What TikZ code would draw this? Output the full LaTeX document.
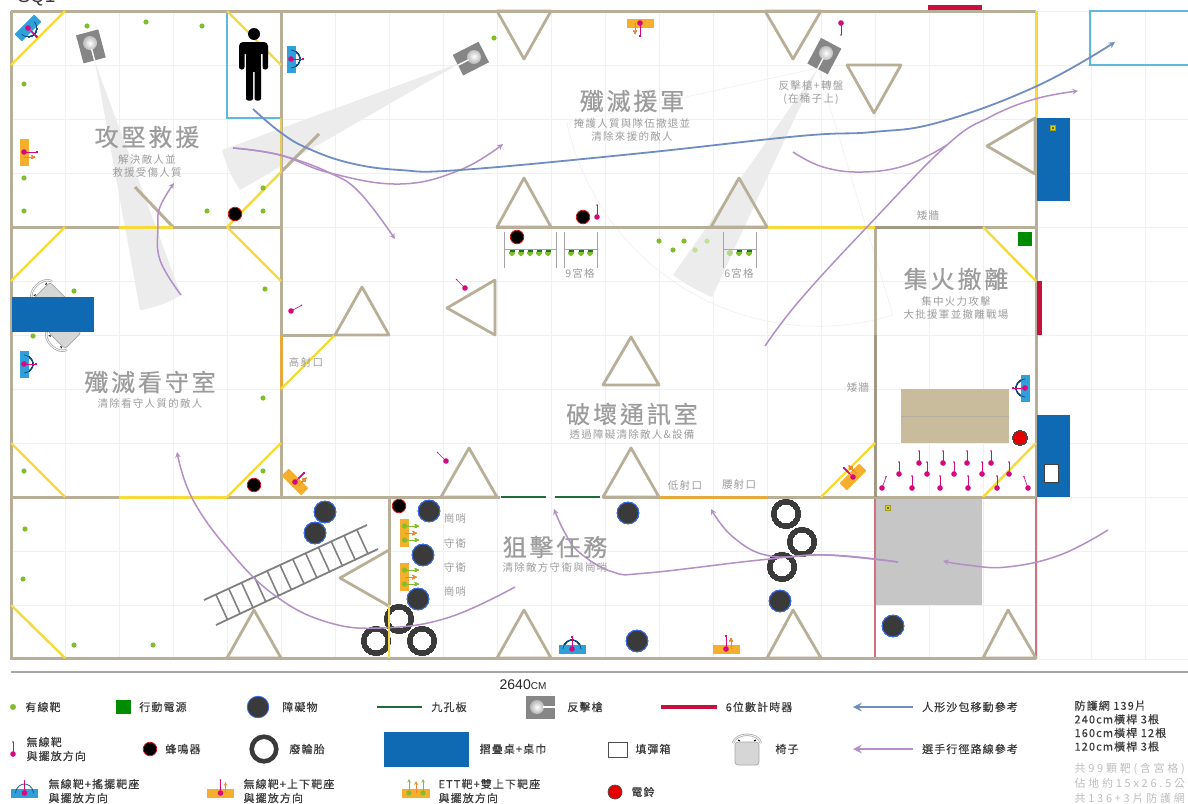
\documentclass[tikz,border=0pt]{standalone}
\usepackage{fontspec}
\setmainfont{Noto Sans CJK TC}
\newfontfamily\cjkwide[LetterSpace=25]{Noto Sans CJK TC}
\newfontfamily\cjktitle[LetterSpace=12,FakeBold=0.5]{Noto Sans CJK TC}
\newfontfamily\cjksub[LetterSpace=12]{Noto Sans CJK TC}
\newfontfamily\cjklegend[LetterSpace=10,FakeBold=0.3]{Noto Sans CJK TC}
\newfontfamily\latinfont{Liberation Sans}
\definecolor{wallcolor}{HTML}{B9AE98}
\definecolor{lowwall}{HTML}{A39885}
\definecolor{yellowwall}{HTML}{F6D93A}
\definecolor{orangewall}{HTML}{E8A93C}
\definecolor{gridcolor}{HTML}{F0F0F0}
\definecolor{conecolor}{HTML}{ECECEC}
\definecolor{tablecolor}{HTML}{0F69B3}
\definecolor{cyancolor}{HTML}{5FB9DC}
\definecolor{swingcolor}{HTML}{2FA0DA}
\definecolor{updowncolor}{HTML}{F6AE2D}
\definecolor{targetpink}{HTML}{D6087F}
\definecolor{targetgreen}{HTML}{82BE2C}
\definecolor{boardgreen}{HTML}{1F6B3A}
\definecolor{timercolor}{HTML}{C8103F}
\definecolor{redline}{HTML}{D2707C}
\definecolor{purplepath}{HTML}{B48FC6}
\definecolor{bluepath}{HTML}{6F8DC2}
\definecolor{blockcolor}{HTML}{C9BC9C}
\definecolor{obstaclecolor}{HTML}{3A3A3A}
\definecolor{gunlight}{HTML}{B5B5B5}
\definecolor{titlegray}{HTML}{9C9C9C}
\definecolor{notegray}{HTML}{BDBDBD}
\definecolor{legendtext}{HTML}{3A3A3A}
\tikzset{
  wall/.style={draw=wallcolor,line width=3},
  yellowline/.style={draw=yellowwall,line width=2.4},
  trianglewall/.style={draw=wallcolor,line width=2.8,line join=round},
  route/.style={draw=purplepath,line width=1.5},
  dummyroute/.style={draw=bluepath,line width=1.8},
  title/.style={text=titlegray,font=\cjktitle\fontsize{24}{26}\selectfont},
  subtitle/.style={text=titlegray,font=\cjksub\fontsize{10.5}{13}\selectfont,align=center},
  planlabel/.style={text=titlegray,font=\cjksub\fontsize{10.5}{13}\selectfont},
  legendlabel/.style={text=legendtext,font=\cjklegend\fontsize{11}{14}\selectfont,align=left},
}
\newcommand{\wirelessdraw}[4]{\begin{scope}[shift={(#1,#2)},rotate=#3]
  \draw[targetpink,line width=.6] (0,0) -- (#4,0);
  \fill[targetpink] (#4,0) circle (.9);
  \fill[targetpink] (0,0) circle (2.8);
\end{scope}}
\newcommand{\swingdraw}[3]{\begin{scope}[shift={(#1,#2)},rotate=#3]
  \fill[swingcolor] (-4.5,-13.5) rectangle (4.5,13.5);
  \draw[tablecolor!70!black,line width=.7] (0,-9) .. controls (7,-8) and (9,-3) .. (9,0) .. controls (9,3) and (7,8) .. (0,9);
  \draw[targetpink,line width=.6] (0,0) -- (12,0);
  \fill[targetpink] (12,0) circle (.9);
  \fill[targetpink] (0,0) circle (2.8);
\end{scope}}
\newcommand{\updowndraw}[3]{\begin{scope}[shift={(#1,#2)},rotate=#3]
  \fill[updowncolor] (-4.5,-13.5) rectangle (4.5,13.5);
  \draw[targetpink,line width=.6] (0,0) -- (13,0);
  \fill[targetpink] (13,0) circle (.9);
  \draw[orangewall!80!red,line width=.7,-stealth] (0,5) -- (11,5);
  \fill[targetpink] (0,0) circle (2.8);
\end{scope}}
\newcommand{\ettdraw}[3]{\begin{scope}[shift={(#1,#2)},rotate=#3]
  \fill[updowncolor] (-4.5,-14) rectangle (4.5,14);
  \draw[targetgreen,line width=.6,-stealth] (0,-7) -- (14,-7);
  \draw[targetgreen,line width=.6,-stealth] (0,7) -- (14,7);
  \draw[orangewall!80!red,line width=.8,-stealth] (0,0) -- (12,0);
  \fill[targetgreen] (0,-7) circle (2.6);
  \fill[targetgreen] (0,7) circle (2.6);
\end{scope}}
\newcommand{\gundraw}[3]{\begin{scope}[shift={(#1,#2)},rotate=#3]
  \fill[gray!95] (-11,-11.5) rectangle (18,11.5);
  \shade[inner color=white,outer color=gunlight] (0,0) circle (7);
  \draw[white,line width=1.4] (6,0) -- (18,0);
\end{scope}}
\newcommand{\chairdraw}[3]{\begin{scope}[shift={(#1,#2)},rotate=#3]
  \draw[gray!70,fill=gray!32,line width=.7,rounded corners=3] (-12,-12) rectangle (12,11);
  \draw[gray!80,line width=2.2] (-14,-11) .. controls (-11,-22) and (11,-22) .. (14,-11);
  \draw[gray!12,line width=1.1] (-14,-11) .. controls (-11,-22) and (11,-22) .. (14,-11);
  \draw[black,line width=1] (-9,-14) -- (-7,-13);
  \draw[black,line width=1] (9,-14) -- (7,-13);
\end{scope}}
\newcommand{\buzzerdraw}[2]{\fill[black] (#1,#2) circle (6.5); \draw[red!80!black,line width=.7] (#1,#2) circle (6.8);}
\newcommand{\obstacledraw}[2]{\draw[fill=obstaclecolor,draw=cyancolor!60!blue,line width=.8] (#1,#2) circle (10.8);}
\newcommand{\tiredraw}[2]{\draw[obstaclecolor,line width=4.6] (#1,#2) circle (12.3);}
\newcommand{\belldraw}[2]{\draw[fill=red!90!black,draw=black!70,line width=.7] (#1,#2) circle (7);}
\newcommand{\markdraw}[2]{\draw[fill=yellow!70!olive,draw=olive!80,line width=.3] (#1-2.4,#2-2.4) rectangle (#1+2.4,#2+2.4); \fill[black] (#1,#2) circle (.9);}
\begin{document}
\begin{tikzpicture}[x=1pt,y=-1pt]
  \useasboundingbox (0,0) rectangle (1188,803);
  \node (titletop) [anchor=base west,text=legendtext,font=\latinfont\fontsize{19}{20}\selectfont] at (14,2) {SQ1};
  % grid
  \foreach \gridx in {11,65,...,1145} \draw[gridcolor,line width=.7] (\gridx,11) -- (\gridx,659);
  \foreach \gridy in {11,65,...,659} \draw[gridcolor,line width=.7] (11,\gridy) -- (1188,\gridy);
  % firing areas of the guns
  \draw[gridcolor,line width=.7] (818,68) -- (567,123) .. controls (599,270) and (749,359) .. (893,315) -- cycle;
  \fill[conecolor] (95,62) -- (140,310) .. controls (155,308) and (170,302) .. (181,295) -- cycle;
  \fill[conecolor] (462,62) -- (222,150) .. controls (226,165) and (232,178) .. (240,190) -- cycle;
  \fill[conecolor] (818,68) -- (673,275) .. controls (685,284) and (698,291) .. (712,297) -- cycle;
  % floor pieces
  \fill[gray!45] (875,497) rectangle (982,605);
  \fill[blockcolor] (901,389) rectangle (1009,443);
  \draw[lowwall!80,line width=.8] (901,416) -- (1009,416);
  \draw[cyancolor,line width=1.2] (227,11) rectangle (281,118);
  \draw[cyancolor,line width=1.2] (1090,11) rectangle (1200,65);
  % walls
  \draw[redline,line width=1.6] (875,497) -- (875,658);
  \draw[redline,line width=1.6] (1036,497) -- (1036,658);
  \draw[wall] (11,11) -- (1036,11);
  \draw[wall] (11,11) -- (11,658) -- (1036,658);
  \draw[wall] (11,227) -- (281,227);
  \draw[wall] (281,11) -- (281,497);
  \draw[wall] (11,497) -- (500,497);
  \draw[wall] (603,497) -- (1036,497);
  \draw[wall] (496,227) -- (767,227);
  \draw[wall] (875,227) -- (875,335);
  \draw[lowwall,line width=3] (875,227) -- (983,227);
  \draw[wall] (983,227) -- (1036,227);
  \draw[lowwall,line width=3] (875,335) -- (875,497);
  \draw[wall] (1036,118) -- (1036,497);
  \draw[wall] (389,497) -- (389,605);
  \draw[wall] (281,335) -- (335,335);
  \draw[wall] (135,187) -- (173,227);
  \draw[wall] (319,134) -- (281,172);
  \draw[draw=yellowwall,line width=3] (1036,11) -- (1036,118);
  \draw[draw=yellowwall,line width=3] (119,227) -- (173,227);
  \draw[draw=yellowwall,line width=3] (119,497) -- (227,497);
  \draw[draw=yellowwall!70!wallcolor,line width=2.6] (281,118) -- (281,172);
  \draw[draw=yellowwall,line width=3] (767,227) -- (875,227);
  \draw[draw=orangewall,line width=3] (281,335) -- (281,389);
  \draw[draw=orangewall,line width=3] (659,497) -- (767,497);
  \draw[boardgreen,line width=2] (501,497) -- (546,497);
  \draw[boardgreen,line width=2] (555,497) -- (600,497);
  % doors
  \foreach \ax/\ay/\bx/\by in {11/65/65/11,227/11/281/65,281/172/227/227,227/227/281/281,11/281/65/227,
    11/443/65/497,281/443/227/497,335/335/281/389,983/227/1036/281,875/443/821/497,1036/443/983/497,11/605/65/658}
    \draw[yellowline] (\ax,\ay) -- (\bx,\by);
  % triangles
  \foreach \ax/\ay/\bx/\by/\cx/\cy in {497/11/551/11/524/59,765/11/821/11/793/59,847/65/901/65/874/113,
    497/227/551/227/524/178,711/227/767/227/739/178,1035/118/987/146/1035/174,495/280/447/308/495/335,
    335/335/389/335/362/287,603/385/659/385/631/337,441/497/497/497/469/448,603/497/659/497/631/448,
    227/658/281/658/254/610,497/658/551/658/524/610,767/658/821/658/793/610,983/658/1036/658/1008/610}
    \draw[trianglewall] (\ax,\ay) -- (\bx,\by) -- (\cx,\cy) -- cycle;
  \draw[trianglewall] (389,550) -- (340,578) -- (389,606);
  % tables, timers
  \chairdraw{50}{299}{45}
  \chairdraw{65}{332}{135}
  \fill[tablecolor] (12,297) rectangle (94,332);
  \fill[tablecolor] (1037,118) rectangle (1070,201);
  \fill[tablecolor] (1037,415) rectangle (1070,497);
  \draw[fill=white,draw=black!75,line width=.9] (1044,464) rectangle (1058,482);
  \fill[timercolor] (928,5) rectangle (982,10);
  \fill[timercolor] (1037,281) rectangle (1041.5,335);
  \fill[green!55!black] (1018,232) rectangle (1032,246);
  \markdraw{1053}{128}
  \markdraw{888}{508}
  % ladder
  \draw[gray,line width=1.8] (204,600) -- (367,525);
  \draw[gray,line width=1.8] (216,625) -- (378,549);
  \foreach \rung in {0,...,11}
    \draw[gray,line width=1.6] (216+12.8*\rung,594.7-5.92*\rung) -- (227.5+12.8*\rung,619.7-5.92*\rung);
  % person
  \fill[black] (254,34) circle (6);
  \fill[black,rounded corners=4] (239,42) rectangle (268,54);
  \fill[black,rounded corners=2.4] (239,47) rectangle (244.5,69.5);
  \fill[black,rounded corners=2.4] (262.5,47) rectangle (268,69.5);
  \fill[black] (246,44) rectangle (261,72);
  \fill[black,rounded corners=2] (246,68) rectangle (253,100.5);
  \fill[black,rounded corners=2] (254.5,68) rectangle (261,100.5);
  % targets
  \foreach \tx/\ty in {87/26,146/22,202/26,24/84,24/178,24/211,207/211,263/211,263/188,494/38,659/241,673/250,684/241,
    74/291,33/336,265/289,263/398,24/471,263/471,25/529,23/579,74/645,153/645}
    \fill[targetgreen] (\tx,\ty) circle (2.6);
  \fill[targetgreen!50!white] (695,250) circle (2.6);
  \fill[targetgreen!50!white] (707,241) circle (2.6);
  \foreach \tx/\ty/\tang/\tlen in {841/23/-90/12,597/217/90/12,291/311/28/12,465/288/135/12,446/461/135/12,
    919/463/90/12,943/463/90/12,967/463/90/12,991/463/90/12,899/474/90/12,927/474/90/12,954/474/90/12,982/474/90/12,1009/474/90/12,
    882/488/70/12,912/488/90/12,940/488/90/12,968/488/90/12,997/488/90/12,1028/488/110/12}
    \wirelessdraw{\tx}{\ty}{\tang}{\tlen}
  \swingdraw{291}{59}{0}
  \swingdraw{28}{28}{-45}
  \swingdraw{24}{364}{0}
  \swingdraw{1025}{388}{180}
  \swingdraw{572}{649}{90}
  \updowndraw{24}{152}{0}
  \updowndraw{640}{23}{-90}
  \updowndraw{295}{482}{45}
  \updowndraw{853}{477}{135}
  \updowndraw{726}{649}{90}
  \ettdraw{404.5}{533}{0}
  \ettdraw{404.5}{577}{0}
  % nine hole boards
  \foreach \ba/\bb in {504/556,564/597,723/756} {
    \draw[gray!70,line width=.8] (\ba,232) -- (\ba,268);
    \draw[gray!70,line width=.8] (\bb,232) -- (\bb,268);
    \draw[gray!70,line width=.8] (\ba,249) -- (\bb,249);
  }
  \foreach \dotx in {512,521,530,539,548,571,581,590,739,749} {
    \fill[targetgreen] (\dotx,253) circle (2.5);
    \fill[boardgreen] (\dotx-2.5,250) rectangle (\dotx+2.5,252);
  }
  \fill[targetgreen!60!white] (730,253) circle (2.5);
  % obstacles
  \foreach \bx/\by in {235/214,254/485,583/217,517/237,399/506} \buzzerdraw{\bx}{\by}
  \foreach \ox/\oy in {325/512,315/533,429/511,423/555,418/599,628/513,637/641,780/601,893/626} \obstacledraw{\ox}{\oy}
  \foreach \rx/\ry in {786/514,802/542,782/567,399/619,422/641,376/641} \tiredraw{\rx}{\ry}
  \belldraw{1020}{438}
  \draw[draw=yellowwall,line width=2] (389,605) -- (389,658);
  % guns
  \gundraw{90}{43}{-75}
  \gundraw{474}{57}{-153}
  \gundraw{826}{53}{-118}
  % routes
  \draw[route,-stealth] plot[smooth,tension=.7] coordinates {(233,148) (280,155) (330,173) (400,184) (460,170) (503,144)};
  \draw[route,-stealth] plot[smooth,tension=.7] coordinates {(233,148) (280,155) (330,173) (360,193) (395,239)};
  \draw[route,-stealth] plot[smooth,tension=.7] coordinates {(181,295) (160,260) (158,227) (160,207) (174,183)};
  \draw[route,-stealth] plot[smooth,tension=.7] coordinates {(515,587) (447,618) (380,628) (327,622) (277,597) (233,555) (193,500) (177,452)};
  \draw[route,-stealth] plot[smooth,tension=.7] coordinates {(898,562) (827,555) (760,560) (647,573) (613,572) (580,553) (565,533) (554,509)};
  \draw[route,-stealth] plot[smooth,tension=.7] coordinates {(898,562) (827,555) (770,556) (733,537) (711,509)};
  \draw[route,-stealth] plot[smooth,tension=.7] coordinates {(1108,530) (1060,555) (1007,567) (967,565) (943,561)};
  \draw[route,-stealth] plot[smooth,tension=.7] coordinates {(765,346) (800,300) (867,227) (947,145) (990,117) (1035,99) (1078,91)};
  \draw[route] plot[smooth,tension=.7] coordinates {(793,152) (823,167) (863,172) (907,165) (947,145)};
  \draw[dummyroute,-stealth] plot[smooth,tension=.7] coordinates {(253,109) (280,132) (307,148) (350,163) (400,170) (460,170) (633,154) (800,136) (873,132) (940,122) (1037,86) (1115,42)};
  % room titles
  \node (roomassault) [title] at (147,137) {攻堅救援};
  \node (subassault) [subtitle] at (147,166) {解決敵人並\\救援受傷人質};
  \node (roomreinforce) [title] at (632,101) {殲滅援軍};
  \node (subreinforce) [subtitle] at (632,130) {掩護人質與隊伍撤退並\\清除來援的敵人};
  \node (roomfocus) [title] at (956,279) {集火撤離};
  \node (subfocus) [subtitle] at (956,308) {集中火力攻擊\\大批援軍並撤離戰場};
  \node (roomguard) [title] at (150,382) {殲滅看守室};
  \node (subguard) [subtitle] at (150,404) {清除看守人質的敵人};
  \node (roomcomms) [title] at (632,414) {破壞通訊室};
  \node (subcomms) [subtitle] at (632,435) {透過障礙清除敵人\&設備};
  \node (roomsniper) [title] at (555,547) {狙擊任務};
  \node (subsniper) [subtitle] at (555,568) {清除敵方守衛與崗哨};
  \node (gunnote) [subtitle] at (811,93) {反擊槍+轉盤\\(在桶子上)};
  \node (lowwallone) [planlabel] at (928,216) {矮牆};
  \node (lowwalltwo) [planlabel] at (858,388) {矮牆};
  \node (highport) [planlabel] at (306,362) {高射口};
  \node (lowport) [planlabel] at (685,485) {低射口};
  \node (waistport) [planlabel] at (739,485) {腰射口};
  \node (gridnine) [planlabel] at (580,273) {9宮格};
  \node (gridsix) [planlabel] at (739,273) {6宮格};
  \node (postone) [planlabel] at (455,519) {崗哨};
  \node (guardone) [planlabel] at (455,543) {守衛};
  \node (guardtwo) [planlabel] at (455,567) {守衛};
  \node (posttwo) [planlabel] at (455,592) {崗哨};
  % legend
  \draw[gray!70,line width=1.3] (11,672) -- (1188,672);
  \node (widthlabel) [text=black!85,font=\latinfont\fontsize{14}{16}\selectfont] at (523,685) {2640{\fontsize{10}{12}\selectfont CM}};
  \fill[targetgreen] (13,707) circle (3);
  \node (legwired) [legendlabel] at (43,707) {有線靶};
  \fill[green!55!black] (116,700) rectangle (131,714);
  \node (legpower) [legendlabel] at (163,707) {行動電源};
  \obstacledraw{258}{707}
  \node (legobstacle) [legendlabel] at (300,707) {障礙物};
  \draw[boardgreen,line width=1.8] (377,707) -- (422,707);
  \node (legboard) [legendlabel] at (449,707) {九孔板};
  \gundraw{537}{707}{0}
  \node (leggun) [legendlabel] at (585,707) {反擊槍};
  \draw[timercolor,line width=4] (661,707) -- (717,707);
  \node (legtimer) [legendlabel] at (759,707) {6位數計時器};
  \draw[bluepath,line width=2.8,-stealth] (913,707) -- (853,707);
  \node (legdummy) [legendlabel] at (970,707) {人形沙包移動參考};
  \node (legnet) [legendlabel,anchor=north west,font=\cjklegend\fontsize{11}{13.6}\selectfont] at (1071,697) {防護網 139片\\240cm橫桿 3根\\160cm橫桿 12根\\120cm橫桿 3根};
  \node (legtotal) [legendlabel,anchor=north west,text=notegray,font=\cjkwide\fontsize{11}{14.6}\selectfont] at (1071,760) {共99顆靶(含宮格)\\佔地約15x26.5公尺\\共136+3片防護網};
  \wirelessdraw{13}{754}{90}{12}
  \node (legwireless) [legendlabel,anchor=west] at (23,749) {無線靶\\與擺放方向};
  \buzzerdraw{150}{749}
  \node (legbuzzer) [legendlabel] at (183,749) {蜂鳴器};
  \tiredraw{264}{749}
  \node (legtire) [legendlabel] at (307,749) {廢輪胎};
  \fill[tablecolor] (384,732) rectangle (469,767);
  \node (legtable) [legendlabel] at (513,749) {摺疊桌+桌巾};
  \draw[fill=white,draw=black!70,line width=.8] (608,742) rectangle (627,757);
  \node (legammo) [legendlabel] at (653,749) {填彈箱};
  \chairdraw{747}{754}{0}
  \node (legchair) [legendlabel] at (787,749) {椅子};
  \draw[purplepath,line width=2.8,-stealth] (913,749) -- (853,749);
  \node (legroute) [legendlabel] at (970,749) {選手行徑路線參考};
  \swingdraw{24.5}{793}{90}
  \node (legswing) [legendlabel,anchor=west] at (45,791) {無線靶+搖擺靶座\\與擺放方向};
  \updowndraw{220.5}{793}{90}
  \node (legupdown) [legendlabel,anchor=west] at (240,791) {無線靶+上下靶座\\與擺放方向};
  \ettdraw{416}{793}{90}
  \node (legett) [legendlabel,anchor=west] at (435,791) {ETT靶+雙上下靶座\\與擺放方向};
  \belldraw{615}{792}
  \node (legbell) [legendlabel] at (643,792) {電鈴};
\end{tikzpicture}
\end{document}
